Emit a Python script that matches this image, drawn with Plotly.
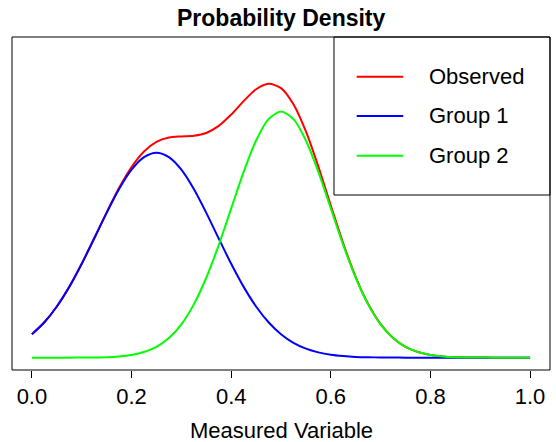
import plotly.graph_objects as go

# Measured variable positions (x) and densities
x_vals = [0.000, 0.025, 0.050, 0.075, 0.100, 0.125, 0.150, 0.175, 0.200, 0.225,
          0.250, 0.275, 0.300, 0.325, 0.350, 0.375, 0.400, 0.425, 0.450, 0.475,
          0.500, 0.525, 0.550, 0.575, 0.600, 0.625, 0.650, 0.675, 0.700, 0.725,
          0.750, 0.775, 0.800, 0.825, 0.850, 0.875, 0.900, 0.925, 0.950, 0.975,
          1.000]

observed = [0.190, 0.287, 0.415, 0.574, 0.762, 0.968, 1.178, 1.377, 1.546, 1.672,
            1.750, 1.785, 1.794, 1.799, 1.822, 1.879, 1.971, 2.080, 2.176, 2.221,
            2.185, 2.054, 1.834, 1.549, 1.234, 0.926, 0.654, 0.435, 0.272, 0.160,
            0.088, 0.046, 0.022, 0.010, 0.004, 0.002, 0.001, 0.000, 0.000, 0.000,
            0.000]

group1 = [0.190, 0.287, 0.415, 0.574, 0.761, 0.966, 1.174, 1.367, 1.524, 1.626,
          1.662, 1.626, 1.524, 1.367, 1.174, 0.966, 0.761, 0.574, 0.415, 0.287,
          0.190, 0.120, 0.073, 0.043, 0.024, 0.013, 0.006, 0.003, 0.002, 0.001,
          0.000, 0.000, 0.000, 0.000, 0.000, 0.000, 0.000, 0.000, 0.000, 0.000,
          0.000]

group2 = [0.000, 0.000, 0.000, 0.000, 0.001, 0.002, 0.004, 0.010, 0.022, 0.046,
          0.088, 0.159, 0.270, 0.432, 0.648, 0.913, 1.210, 1.506, 1.761, 1.934,
          1.995, 1.934, 1.761, 1.506, 1.210, 0.913, 0.648, 0.432, 0.270, 0.159,
          0.088, 0.046, 0.022, 0.010, 0.004, 0.002, 0.001, 0.000, 0.000, 0.000,
          0.000]

series_names = ["Observed", "Group 1", "Group 2"]
series_colors = ["#FF0000", "#0000FF", "#00FF00"]
x_ticks = [0.0, 0.2, 0.4, 0.6, 0.8, 1.0]
x_tick_labels = ["0.0", "0.2", "0.4", "0.6", "0.8", "1.0"]

FONT = "Liberation Sans, Arial, Helvetica, sans-serif"

fig = go.Figure()
for name, ys, col in zip(series_names, [observed, group1, group2], series_colors):
    fig.add_trace(go.Scatter(
        x=x_vals, y=ys, mode="lines", name=name,
        line=dict(color=col, width=2, shape="spline", smoothing=0.8),
        showlegend=False, hoverinfo="skip"))

# Manual legend (box top-right, matching R's legend)
shapes = [
    dict(type="rect", xref="paper", yref="paper", x0=0, x1=1, y0=0, y1=1,
         line=dict(color="#000000", width=1), layer="above"),
    dict(type="rect", xref="paper", yref="paper", x0=0.5985, x1=1.0, y0=0.5255, y1=1.0,
         line=dict(color="#000000", width=1), fillcolor="rgba(0,0,0,0)"),
]
annotations = []
row_y = [0.8808, 0.7628, 0.6435]
for name, col, yy in zip(series_names, series_colors, row_y):
    shapes.append(dict(type="line", xref="paper", yref="paper",
                       x0=0.6407, x1=0.7273, y0=yy, y1=yy,
                       line=dict(color=col, width=2)))
    annotations.append(dict(text=name, xref="paper", yref="paper", x=0.7714, y=yy,
                            xanchor="left", yanchor="middle", showarrow=False,
                            font=dict(family=FONT, size=22, color="#000000")))

annotations.append(dict(text="Measured Variable", xref="paper", yref="paper",
                        x=0.5, y=-0.183, xanchor="center", yanchor="middle",
                        showarrow=False, font=dict(family=FONT, size=22, color="#000000")))
annotations.append(dict(text="<b>Probability Density</b>", xref="paper", yref="paper",
                        x=0.5, y=1.057, xanchor="center", yanchor="middle",
                        showarrow=False, font=dict(family=FONT, size=23, color="#000000")))

fig.update_layout(
    width=556, height=442,
    margin=dict(l=12, r=6, t=37, b=72),
    paper_bgcolor="white", plot_bgcolor="white",
    shapes=shapes, annotations=annotations,
    hovermode=False,
    xaxis=dict(range=[-0.04, 1.04], tickvals=x_ticks, ticktext=x_tick_labels,
               ticks="outside", ticklen=7, tickwidth=1, tickcolor="#000000",
               showgrid=False, zeroline=False, showline=False,
               tickfont=dict(family=FONT, size=22, color="#000000")),
    yaxis=dict(range=[-0.1, 2.6], showgrid=False, zeroline=False,
               showline=False, showticklabels=False, ticks=""),
)

fig.write_html("out.html", config={"displayModeBar": False},
               post_script="document.body.style.margin='0';document.body.style.padding='0';")
